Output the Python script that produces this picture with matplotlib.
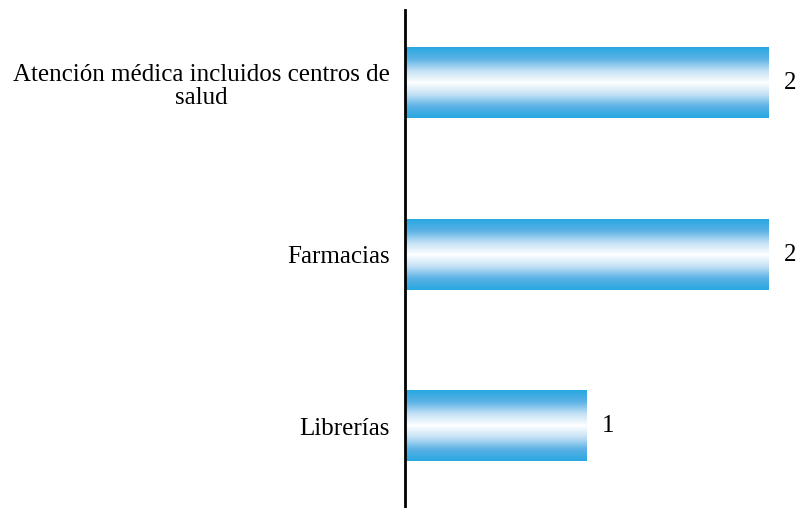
import matplotlib.pyplot as plt
import numpy as np
from matplotlib.colors import LinearSegmentedColormap

categorias = ['Atención médica incluidos centros de\nsalud', 'Farmacias', 'Librerías']
valores = [2, 2, 1]

plt.rcParams['font.family'] = ['Liberation Serif', 'DejaVu Serif']

fig = plt.figure(figsize=(8, 5.08), dpi=100)
ax = fig.add_axes([405 / 800, 0, (769 - 405) / 800, 498 / 508])

cmap = LinearSegmentedColormap.from_list(
    'barra', ['#27a7e0', '#5cb2e6', '#c4e1f5', '#ffffff', '#c4e1f5', '#5cb2e6', '#27a7e0'])
grad = np.linspace(0, 1, 256).reshape(-1, 1)

alto = 0.41
for i, v in enumerate(valores):
    ax.imshow(grad, cmap=cmap, aspect='auto', interpolation='bicubic',
              extent=(0, v, i + alto / 2, i - alto / 2), zorder=2)
    ax.annotate(str(v), xy=(v, i), xytext=(10.5, 0), textcoords='offset points',
                ha='left', va='center', fontsize=18, annotation_clip=False)

ax.set_xlim(0, 2)
ax.set_ylim(2.478, -0.426)
ax.set_yticks(range(len(categorias)))
ax.set_yticklabels(categorias, fontsize=18, multialignment='center', linespacing=1.1)
ax.tick_params(axis='y', length=0, pad=11)
ax.set_xticks([])
for s in ['top', 'right', 'bottom']:
    ax.spines[s].set_visible(False)
ax.spines['left'].set_linewidth(2)
ax.spines['left'].set_color('black')

fig.savefig('out.png', dpi=100)
